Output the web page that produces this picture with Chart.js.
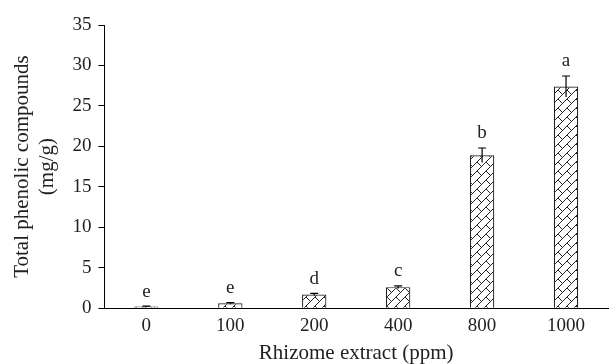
<!DOCTYPE html>
<html>
<head>
<meta charset="utf-8">
<script src="https://cdn.jsdelivr.net/npm/chart.js@4"></script>
<style>
  html, body { margin: 0; padding: 0; background: #fff; }
  #wrap { width: 613px; height: 364px; }
</style>
</head>
<body>
<div id="wrap"><canvas id="phenolChart" width="613" height="364"></canvas></div>
<script>
// data
const doses = ['0', '100', '200', '400', '800', '1000'];
const phenolic = [0.2, 0.6, 1.7, 2.6, 18.9, 27.4];
const phenolicErr = [0.05, 0.1, 0.12, 0.15, 0.9, 1.3];
const letters = ['e', 'e', 'd', 'c', 'b', 'a'];
const yTicks = [0, 5, 10, 15, 20, 25, 30, 35];

const serif = '"Liberation Serif", "DejaVu Serif", serif';

// hatch fill like the printed figure
function makeHatch() {
    const c = document.createElement('canvas');
    c.width = 9; c.height = 9;
    const g = c.getContext('2d');
    g.fillStyle = '#fff';
    g.fillRect(0, 0, 9, 9);
    g.strokeStyle = '#222';
    g.lineWidth = 1;
    g.beginPath();
    g.moveTo(0, 9); g.lineTo(9, 0);
    g.moveTo(0, 0); g.lineTo(4, 4);
    g.stroke();
    return g.createPattern(c, 'repeat');
}

// error bars + significance letters
const errorBars = {
    id: 'errorBars',
    afterDatasetsDraw(chart) {
        const ctx = chart.ctx;
        const y = chart.scales.y;
        const meta = chart.getDatasetMeta(0);
        ctx.save();
        ctx.strokeStyle = '#000';
        ctx.lineWidth = 1.2;
        ctx.fillStyle = '#222';
        ctx.font = '19px ' + serif;
        ctx.textAlign = 'center';
        ctx.textBaseline = 'bottom';
        meta.data.forEach((bar, i) => {
            const x = bar.x;
            const top = y.getPixelForValue(phenolic[i] + phenolicErr[i]);
            const low = y.getPixelForValue(phenolic[i] - phenolicErr[i]);
            ctx.beginPath();
            ctx.moveTo(x, low); ctx.lineTo(x, top);
            ctx.moveTo(x - 4, top); ctx.lineTo(x + 4, top);
            ctx.stroke();
            ctx.fillText(letters[i], x, top - 5);
        });
        ctx.restore();
    }
};

new Chart(document.getElementById('phenolChart').getContext('2d'), {
    type: 'bar',
    data: {
        labels: doses,
        datasets: [{
            data: phenolic,
            backgroundColor: makeHatch(),
            borderColor: '#222',
            borderWidth: 1.2,
            categoryPercentage: 1,
            barPercentage: 0.29
        }]
    },
    options: {
        responsive: false,
        animation: false,
        devicePixelRatio: 1,
        layout: { padding: { top: 25, right: 5, left: 10, bottom: 0 } },
        plugins: { legend: { display: false }, tooltip: { enabled: false } },
        scales: {
            x: {
                grid: { display: false, drawTicks: false },
                border: { display: true, color: '#000', width: 1 },
                ticks: { color: '#222', font: { family: serif, size: 19 }, padding: 6 },
                title: { display: true, text: 'Rhizome extract (ppm)', color: '#222', font: { family: serif, size: 21, lineHeight: 1.0 }, padding: { top: 0, bottom: 0 } }
            },
            y: {
                min: 0, max: 35,
                afterBuildTicks: axis => { axis.ticks = yTicks.map(v => ({ value: v })); },
                grid: { drawOnChartArea: false, tickLength: 6, color: '#000' },
                border: { display: true, color: '#000', width: 1 },
                ticks: { color: '#222', font: { family: serif, size: 19 }, padding: 7 },
                title: { display: true, text: ['Total phenolic compounds', '(mg/g)'], color: '#222', font: { family: serif, size: 21, lineHeight: 1.2 }, padding: { top: 0, bottom: 5 } }
            }
        }
    },
    plugins: [errorBars]
});
</script>
</body>
</html>
